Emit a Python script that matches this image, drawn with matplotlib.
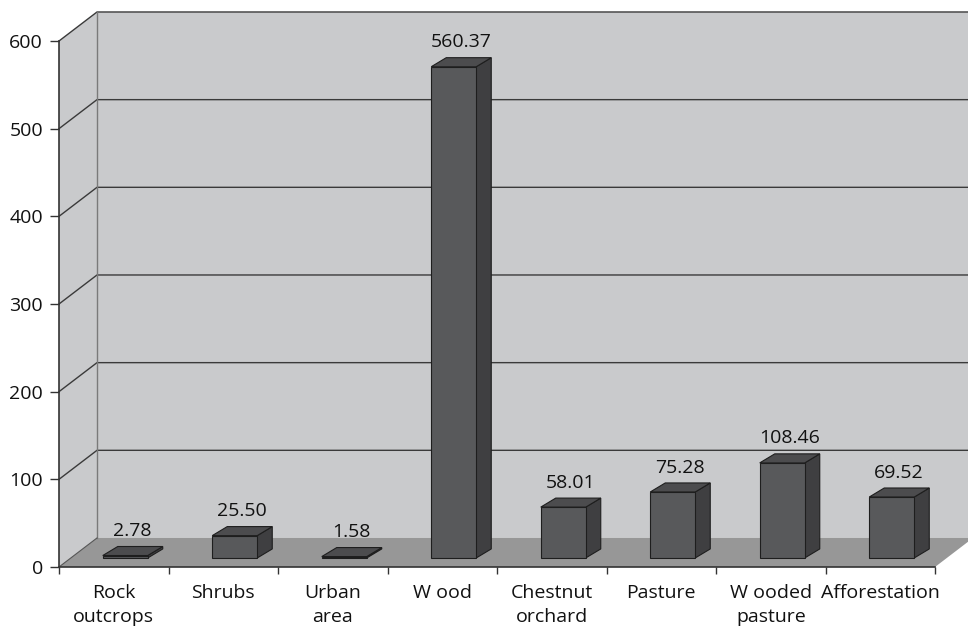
import matplotlib.pyplot as plt
from matplotlib.patches import Polygon

plt.rcParams['font.family'] = ['Open Sans', 'DejaVu Sans']

# land-use classes and their areas
categories = ["Rock\noutcrops", "Shrubs", "Urban\narea", "W ood", "Chestnut\norchard",
              "Pasture", "W ooded\npasture", "Afforestation"]
values = [2.78, 25.50, 1.58, 560.37, 58.01, 75.28, 108.46, 69.52]
yticks = [0, 100, 200, 300, 400, 500, 600]

wall_color = "#c9cacc"
floor_color = "#979797"
face_color = "#58595b"
side_color = "#3f3f41"
top_color = "#4c4c4e"
edge_color = "#1e1e1e"
grid_color = "#3a3a3a"

fig = plt.figure(figsize=(9.68, 6.31), dpi=100)
ax = fig.add_axes([59 / 968, 64 / 631, 876 / 968, 526 / 631])
n = len(categories)
ax.set_xlim(-0.5, n - 0.5)
ax.set_ylim(0, 600)
ax.patch.set_visible(False)
for s in ax.spines.values():
    s.set_visible(False)

# oblique depth of the walls and of the bars, in data units
DX, DY = 0.347, 33.1
fx, fy = 0.105, 10.3
bw = 0.411
bx, by = 0.137, 10.3

x_left, x_right = -0.5, n - 0.5
ymax = yticks[-1]

def poly(pts, color, z, ec="none", lw=0):
    ax.add_patch(Polygon(pts, closed=True, facecolor=color, edgecolor=ec,
                         linewidth=lw, zorder=z, clip_on=False))

# walls and floor
poly([(x_left + DX, DY), (x_right + DX + 1, DY), (x_right + DX + 1, ymax + DY),
      (x_left + DX, ymax + DY)], wall_color, 0)
poly([(x_left, 0), (x_left + DX, DY), (x_left + DX, ymax + DY), (x_left, ymax)],
     wall_color, 0)
poly([(x_left, 0), (x_right, 0), (x_right + DX, DY), (x_left + DX, DY)],
     floor_color, 1)

# gridlines running across the side wall and the back wall
for v in yticks[1:]:
    ax.plot([x_left, x_left + DX, x_right + DX + 1], [v, v + DY, v + DY],
            color=grid_color, lw=1, zorder=2, clip_on=False)
ax.plot([x_left + DX, x_left + DX], [DY, ymax + DY], color="#7a7a7a", lw=1,
        zorder=2, clip_on=False)
ax.plot([x_left, x_left + DX], [0, DY], color="#555555", lw=0.8, zorder=2,
        clip_on=False)

# axis lines
ax.plot([x_left, x_left], [0, ymax], color="#333333", lw=1.2, zorder=3, clip_on=False)
ax.plot([x_left, x_right], [0, 0], color="#333333", lw=1.2, zorder=3, clip_on=False)

# 3D bars
for i, v in enumerate(values):
    x0 = i - bw / 2 + fx
    y0 = fy
    poly([(x0 + bw, y0), (x0 + bw + bx, y0 + by), (x0 + bw + bx, y0 + v + by),
          (x0 + bw, y0 + v)], side_color, 4, edge_color, 0.8)
    poly([(x0, y0 + v), (x0 + bw, y0 + v), (x0 + bw + bx, y0 + v + by),
          (x0 + bx, y0 + v + by)], top_color, 4, edge_color, 0.8)
    poly([(x0, y0), (x0 + bw, y0), (x0 + bw, y0 + v), (x0, y0 + v)],
         face_color, 5, edge_color, 0.8)
    ax.annotate(f"{v:.2f}", xy=(x0 + (bw + bx) / 2, y0 + v + by), xytext=(0, 7.5),
                textcoords="offset points", ha="center", va="baseline",
                fontsize=14, color="#111111", zorder=6, annotation_clip=False)

# ticks
ax.set_yticks(yticks)
ax.set_yticklabels([str(t) for t in yticks])
ax.tick_params(axis="y", length=6.5, width=1, color="#333333", pad=5,
               labelsize=14, labelcolor="#111111")
ax.set_xticks([k - 0.5 for k in range(n + 1)])
ax.set_xticklabels([])
ax.set_xticks(range(n), minor=True)
ax.set_xticklabels(categories, minor=True, linespacing=1.45)
ax.tick_params(axis="x", which="major", length=5, width=1, color="#333333")
ax.tick_params(axis="x", which="minor", length=0, pad=12, labelsize=14,
               labelcolor="#111111")

fig.savefig("out.png", dpi=100)
